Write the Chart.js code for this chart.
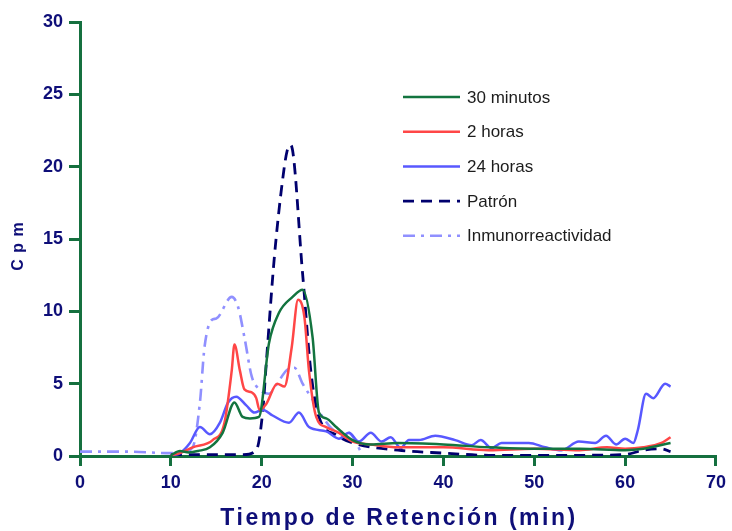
<!DOCTYPE html>
<html>
<head>
<meta charset="utf-8">
<script src="https://cdn.jsdelivr.net/npm/chart.js"></script>
<style>
  html, body { margin: 0; padding: 0; background: #fff; }
  #wrap { width: 732px; height: 531px; }
</style>
</head>
<body>
<div id="wrap"><canvas id="cromatograma" width="732" height="531"></canvas></div>
<script>
// Retention time (min) and counts per minute for each sample
const tiempo30min = [10, 11, 12, 13, 14.3, 15.7, 17.0, 17.9, 18.7, 19.7, 20.8, 21.9, 23.4, 24.5, 25.6, 26.3, 27.1, 28.2, 30, 32, 35, 40, 45, 50, 55, 60, 62, 65];
const cpm30min    = [0.05, 0.35, 0.25, 0.35, 0.6, 1.6, 3.7, 2.7, 2.6, 2.7, 7.8, 9.9, 11.0, 11.5, 8.2, 3.0, 2.6, 2.0, 1.1, 0.8, 0.9, 0.8, 0.6, 0.5, 0.5, 0.4, 0.5, 0.9];

const tiempo2h = [10, 11, 12.4, 14.6, 15.9, 16.7, 17.0, 17.6, 18.1, 18.9, 19.4, 19.75, 20.5, 21.7, 22.5, 23.3, 24.0, 24.7, 25.2, 26.0, 27.1, 28.5, 30, 32, 35, 40, 45, 50, 55, 58, 60, 62, 64, 65];
const cpm2h    = [0.05, 0.2, 0.6, 1.1, 2.3, 5.9, 7.7, 5.9, 4.6, 4.4, 4.0, 3.2, 3.6, 5.0, 4.8, 7.5, 10.8, 9.6, 5.9, 2.7, 2.0, 1.6, 1.0, 0.8, 0.6, 0.6, 0.4, 0.5, 0.4, 0.6, 0.5, 0.6, 0.9, 1.3];

const tiempo24h = [10, 11, 12.1, 13.2, 14.3, 15.4, 16.3, 17.2, 18.3, 19.2, 20.1, 21.2, 23.0, 24.1, 25.2, 27.1, 28.5, 29.6, 30.7, 32, 33.2, 34.2, 35.3, 36.2, 37.3, 39.1, 41.3, 43.1, 44.1, 45.3, 46.4, 49.4, 51.2, 53.0, 54.9, 56.7, 57.9, 59, 60, 60.9, 61.4, 62.3, 63.1, 64.4, 65];
const cpm24h    = [0.05, 0.2, 0.9, 2.0, 1.5, 2.3, 3.7, 4.1, 3.5, 3.0, 3.2, 2.8, 2.3, 3.0, 2.0, 1.7, 1.2, 1.6, 1.0, 1.6, 1.0, 1.3, 0.55, 1.1, 1.1, 1.4, 1.1, 0.75, 1.1, 0.55, 0.9, 0.9, 0.6, 0.4, 1.0, 0.9, 1.4, 0.8, 1.2, 0.9, 1.8, 4.3, 4.0, 5.0, 4.8];

const tiempoPatron = [10, 12, 15, 18, 19.4, 20.1, 20.5, 21.4, 22.3, 22.8, 23.2, 24.5, 25.4, 26.3, 28.2, 30, 35, 40, 45, 50, 55, 60, 62, 64, 65];
const cpmPatron    = [0.1, 0.1, 0.1, 0.1, 0.4, 3.0, 6.4, 13.8, 19.1, 21.1, 21.5, 12.6, 5.9, 2.7, 1.45, 0.9, 0.4, 0.2, 0.05, 0.05, 0.05, 0.1, 0.4, 0.5, 0.3];

const tiempoInmuno = [0, 5, 10, 11, 12.4, 13.2, 13.7, 14.5, 15.0, 16.7, 17.4, 18.1, 18.9, 19.75, 20.8, 21.7, 22.7, 23.6, 24.5, 25.6, 26.7, 28.2, 29.6, 31];
const cpmInmuno    = [0.3, 0.3, 0.2, 0.2, 0.6, 3.7, 7.5, 9.4, 9.5, 11.0, 10.3, 8.2, 5.5, 4.6, 4.3, 5.0, 5.9, 6.1, 5.0, 3.9, 2.7, 1.7, 1.6, 0.2];

const xTicks = [0, 10, 20, 30, 40, 50, 60, 70];
const yTicks = [0, 5, 10, 15, 20, 25, 30];

const axisGreen = '#15703f';
const labelNavy = '#0e0e78';
const fuente = '"Liberation Sans", Arial, sans-serif';

function puntos(xs, ys) {
  return xs.map((x, i) => ({ x: x, y: ys[i] }));
}

function serie(label, xs, ys, color, width, dash) {
  return {
    label: label,
    data: puntos(xs, ys),
    borderColor: color,
    borderWidth: width,
    borderDash: dash,
    pointRadius: 0,
    fill: false,
    cubicInterpolationMode: 'monotone',
    tension: 0.4
  };
}

// Legend inside the plot plus the two axis titles (spaced lettering)
const rotulos = {
  id: 'rotulos',
  afterDraw(chart) {
    const ctx = chart.ctx;
    const area = chart.chartArea;
    ctx.save();

    chart.data.datasets.forEach((ds, i) => {
      const y = 97 + i * 34.7;
      ctx.beginPath();
      ctx.strokeStyle = ds.borderColor;
      ctx.lineWidth = ds.borderWidth;
      ctx.setLineDash(ds.borderDash || []);
      ctx.moveTo(403, y);
      ctx.lineTo(460, y);
      ctx.stroke();
      ctx.setLineDash([]);
      ctx.fillStyle = '#1c1c1c';
      ctx.font = '17px ' + fuente;
      ctx.textAlign = 'left';
      ctx.textBaseline = 'middle';
      ctx.fillText(ds.label, 467, y + 1);
    });

    // x axis title
    ctx.fillStyle = labelNavy;
    ctx.font = 'bold 23px ' + fuente;
    ctx.letterSpacing = '2.5px';
    ctx.textAlign = 'center';
    ctx.textBaseline = 'middle';
    ctx.fillText('Tiempo de Retención (min)', (area.left + area.right) / 2 + 1, 519);

    // y axis title
    ctx.letterSpacing = '1px';
    ctx.font = 'bold 16px ' + fuente;
    ctx.translate(19, 246);
    ctx.rotate(-Math.PI / 2);
    ctx.fillText('C p m', 0, 0);
    ctx.restore();
  }
};

new Chart(document.getElementById('cromatograma'), {
  type: 'line',
  data: {
    datasets: [
      serie('30 minutos', tiempo30min, cpm30min, '#13743f', 2.5, []),
      serie('2 horas', tiempo2h, cpm2h, '#ff4646', 2.5, []),
      serie('24 horas', tiempo24h, cpm24h, '#5858ff', 2.5, []),
      serie('Patrón', tiempoPatron, cpmPatron, '#00006e', 2.8, [11, 7]),
      serie('Inmunorreactividad', tiempoInmuno, cpmInmuno, '#9090ff', 2.6, [12, 6, 3, 6])
    ]
  },
  options: {
    responsive: false,
    animation: false,
    events: [],
    layout: { padding: { top: 22, right: 12, left: 0, bottom: 0 } },
    plugins: {
      legend: { display: false },
      tooltip: { enabled: false }
    },
    scales: {
      x: {
        type: 'linear',
        min: 0,
        max: 70,
        afterBuildTicks: scale => { scale.ticks = xTicks.map(v => ({ value: v })); },
        afterFit: scale => { scale.height = 75; },
        grid: { drawOnChartArea: false, color: axisGreen, lineWidth: 3, tickLength: 10 },
        border: { color: axisGreen, width: 3 },
        ticks: {
          color: labelNavy,
          padding: 6,
          maxRotation: 0,
          font: { family: fuente, size: 18, weight: 'bold' }
        }
      },
      y: {
        type: 'linear',
        min: 0,
        max: 30,
        afterBuildTicks: scale => { scale.ticks = yTicks.map(v => ({ value: v })); },
        afterFit: scale => { scale.width = 80; },
        grid: { drawOnChartArea: false, color: axisGreen, lineWidth: 3, tickLength: 11 },
        border: { color: axisGreen, width: 3 },
        ticks: {
          color: labelNavy,
          padding: 6,
          font: { family: fuente, size: 18, weight: 'bold' }
        }
      }
    }
  },
  plugins: [rotulos]
});
</script>
</body>
</html>
